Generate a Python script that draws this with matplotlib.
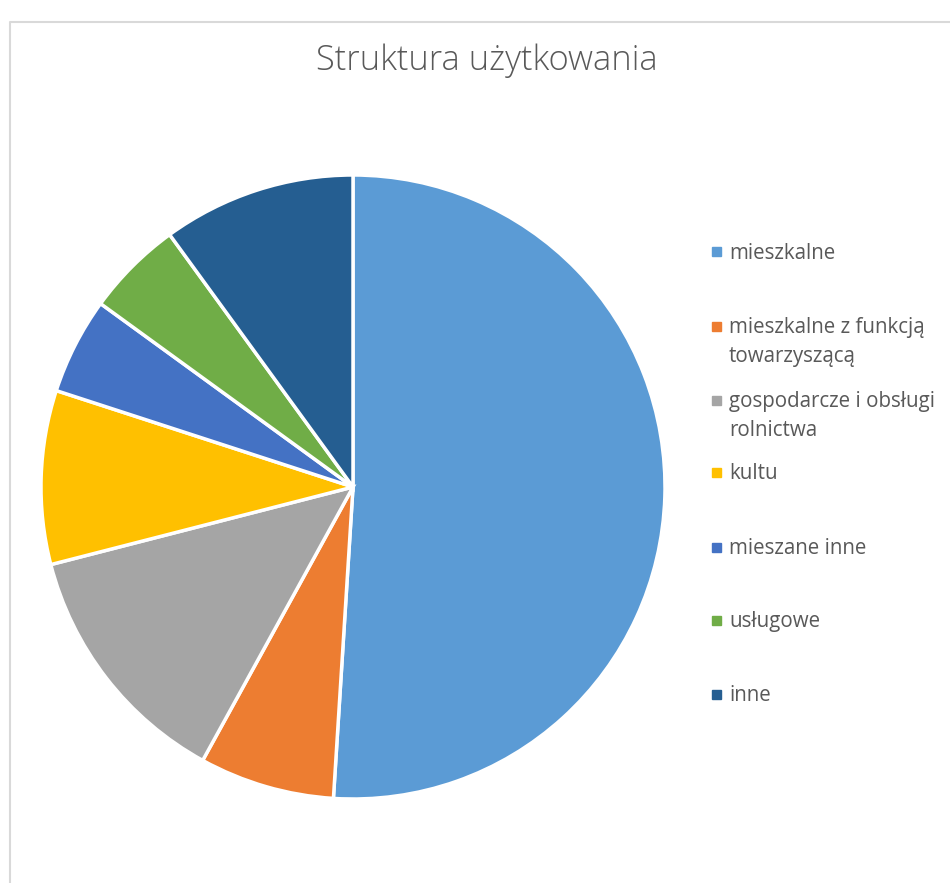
import matplotlib
matplotlib.use("Agg")
import matplotlib.pyplot as plt
from matplotlib.lines import Line2D
from matplotlib.patches import Rectangle

categories = ["mieszkalne", "mieszkalne z funkcją\ntowarzyszącą",
              "gospodarcze i obsługi\nrolnictwa", "kultu", "mieszane inne",
              "usługowe", "inne"]
values = [51, 7, 13, 9, 5, 5, 10]
colors = ["#5B9BD5", "#ED7D31", "#A5A5A5", "#FFC000", "#4472C4", "#70AD47", "#255E91"]
title = "Struktura użytkowania"

W, H = 950, 883
fig = plt.figure(figsize=(W / 100, H / 100), dpi=100)
fig.patch.set_facecolor("white")

# chart-area border (partially visible)
fig.add_artist(Line2D([10 / W, 10 / W, 1.0], [0.0, 1 - 22 / H, 1 - 22 / H],
                      transform=fig.transFigure, color="#D9D9D9", lw=1.5))

cx, cy, r = 353, 487, 312
ax = fig.add_axes([(cx - r) / W, 1 - (cy + r) / H, 2 * r / W, 2 * r / H])
ax.pie(values, colors=colors, startangle=90, counterclock=False, radius=1,
       wedgeprops=dict(edgecolor="white", linewidth=2.5))
ax.set_xlim(-1, 1)
ax.set_ylim(-1, 1)
ax.set_aspect("equal")
ax.axis("off")

fig.text(487 / W, 1 - 61 / H, title, ha="center", va="center",
         fontsize=24.8, color="#595959", family="Open Sans", fontweight="light")

# legend (Excel-like layout)
legend_y = [252, 326, 400, 472, 547, 620, 694]
line_step = 29
for lab, col, y in zip(categories, colors, legend_y):
    fig.add_artist(Rectangle((712 / W, 1 - (y + 4.5) / H), 9 / W, 9 / H,
                             transform=fig.transFigure, color=col))
    for i, part in enumerate(lab.split("\n")):
        fig.text(729 / W, 1 - (y + 7 + i * line_step) / H, part, ha="left",
                 va="baseline", fontsize=14.8, color="#595959", family="Open Sans")

fig.savefig("out.png", dpi=100)
